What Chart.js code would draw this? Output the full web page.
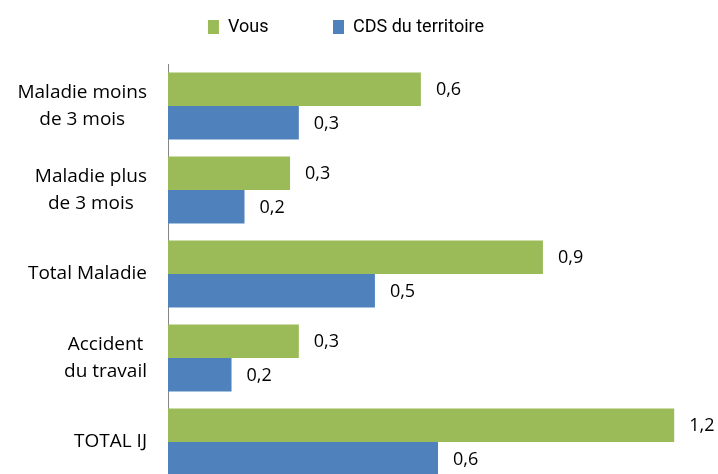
<!DOCTYPE html>
<html>
<head>
<meta charset="utf-8">
<script src="https://cdn.jsdelivr.net/npm/chart.js@4/dist/chart.umd.min.js"></script>
<style>
    html, body { margin: 0; padding: 0; background: #fff; overflow: hidden; }
</style>
</head>
<body>
<canvas id="myChart" width="718" height="484"></canvas>
<script>
// categories, top to bottom (multi-line labels as arrays)
const categories = [
    ['Maladie moins', 'de 3 mois'],
    ['Maladie plus', 'de 3 mois'],
    ['Total Maladie'],
    ['Accident', 'du travail'],
    ['TOTAL IJ']
];
const seriesNames = ['Vous', 'CDS du territoire'];
const vousValues = [0.605, 0.292, 0.897, 0.313, 1.211];
const cdsValues = [0.313, 0.183, 0.495, 0.152, 0.646];

const legendPadding = 64.5;

// keep the legend as a 64px band above the plot, text centred near y=27
const legendBand = {
    id: 'legendBand',
    beforeInit(chart) {
        const fit = chart.legend.fit;
        chart.legend.fit = function () {
            fit.call(this);
            this.height = 64;
        };
    },
    afterLayout(chart) {
        chart.legend.top = 18 - legendPadding;
    }
};

// category labels: block right aligned, lines centred (like the original)
const categoryLabels = {
    id: 'categoryLabels',
    afterDraw(chart) {
        const ctx = chart.ctx;
        const yScale = chart.scales.y;
        const lineH = 27;
        ctx.save();
        ctx.font = '19px "Open Sans"';
        ctx.fillStyle = '#000';
        ctx.textAlign = 'center';
        ctx.textBaseline = 'middle';
        chart.data.labels.forEach((lines, i) => {
            const w = Math.max(...lines.map(l => ctx.measureText(l).width));
            const cx = chart.chartArea.left - 21 - w / 2;
            const cy = yScale.getPixelForValue(i);
            lines.forEach((l, j) => {
                ctx.fillText(l, cx, cy + (j - (lines.length - 1) / 2) * lineH);
            });
        });
        ctx.restore();
    }
};

// value labels at the end of each bar, french decimal comma
const valueLabels = {
    id: 'valueLabels',
    afterDatasetsDraw(chart) {
        const ctx = chart.ctx;
        ctx.save();
        ctx.font = '18px "Open Sans"';
        ctx.fillStyle = '#000';
        ctx.textAlign = 'left';
        ctx.textBaseline = 'middle';
        chart.data.datasets.forEach((ds, d) => {
            chart.getDatasetMeta(d).data.forEach((bar, i) => {
                ctx.fillText(ds.data[i].toFixed(1).replace('.', ','), bar.x + 15, bar.y + 1);
            });
        });
        ctx.restore();
    }
};

let ctx = document.getElementById('myChart');

let myChart = new Chart(ctx, {
    type: 'bar',
    data: {
        labels: categories,
        datasets: [{
            label: seriesNames[0],
            data: vousValues,
            backgroundColor: '#9BBB59',
            borderWidth: 0
        }, {
            label: seriesNames[1],
            data: cdsValues,
            backgroundColor: '#4F81BD',
            borderWidth: 0
        }]
    },
    options: {
        indexAxis: 'y',
        responsive: false,
        animation: false,
        devicePixelRatio: 1,
        categoryPercentage: 0.8,
        barPercentage: 1.0,
        layout: {
            padding: { left: 0, right: 26, top: 0, bottom: 0 }
        },
        plugins: {
            legend: {
                position: 'top',
                align: 'center',
                labels: {
                    boxWidth: 11,
                    boxHeight: 14,
                    padding: legendPadding,
                    color: '#000',
                    font: { family: 'Roboto', size: 18 }
                }
            },
            tooltip: { enabled: false }
        },
        scales: {
            x: {
                display: false,
                min: 0,
                max: 1.2536
            },
            y: {
                grid: { display: false },
                border: { display: true, color: '#868686', width: 1 },
                ticks: { display: false },
                afterFit(scale) {
                    scale.width = 168;
                }
            }
        }
    },
    plugins: [legendBand, categoryLabels, valueLabels]
});
</script>
</body>
</html>
